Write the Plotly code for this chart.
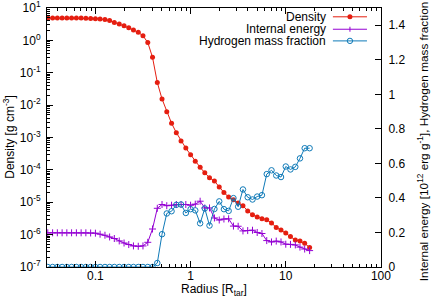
import plotly.graph_objects as go

radius = [0.0316, 0.0355, 0.0398, 0.0447, 0.0501, 0.0562, 0.0631, 0.0708, 0.0794, 0.0891,
          0.100, 0.112, 0.126, 0.141, 0.158, 0.178, 0.200, 0.224, 0.251, 0.282,
          0.316, 0.355, 0.398, 0.447, 0.501, 0.562, 0.631, 0.708, 0.794, 0.891,
          1.00, 1.12, 1.26, 1.41, 1.58, 1.78, 2.00, 2.24, 2.51, 2.82,
          3.16, 3.55, 3.98, 4.47, 5.01, 5.62, 6.31, 7.08, 7.94, 8.91,
          10.0, 11.2, 12.6, 14.1, 15.8, 17.8]

density = [4.9, 4.9, 4.9, 4.9, 4.9, 4.9, 4.9, 4.9, 4.8, 4.75,
           4.7, 4.6, 4.4, 4.1, 3.6, 3.2, 2.85, 2.45, 2.1, 1.77,
           1.39, 0.86, 0.30, 0.050, 0.0155, 0.0062, 0.00275, 0.00141, 7.8e-4, 4.7e-4,
           2.95e-4, 1.86e-4, 1.2e-4, 8.1e-5, 5.75e-5, 4.5e-5, 2.95e-5, 2.0e-5, 1.45e-5, 1.2e-5,
           9.5e-6, 7.8e-6, 5.4e-6, 4.1e-6, 3.5e-6, 3.1e-6, 2.9e-6, 2.3e-6, 1.66e-6, 1.38e-6,
           1.12e-6, 8.7e-7, 6.8e-7, 6.3e-7, 5.4e-7, 4.0e-7]

internal_energy = [0.198, 0.198, 0.198, 0.198, 0.198, 0.198, 0.198, 0.198, 0.198, 0.197,
                   0.196, 0.190, 0.184, 0.174, 0.165, 0.151, 0.139, 0.130, 0.122, 0.120,
                   0.122, 0.143, 0.220, 0.340, 0.362, 0.355, 0.358, 0.362, 0.362, 0.362,
                   0.358, 0.364, 0.381, 0.342, 0.342, 0.284, 0.272, 0.278, 0.279, 0.237,
                   0.236, 0.209, 0.211, 0.213, 0.200, 0.194, 0.153, 0.145, 0.150, 0.145,
                   0.132, 0.131, 0.128, 0.115, 0.104, 0.095]

hydrogen = [0.0, 0.0, 0.0, 0.0, 0.0, 0.0, 0.0, 0.0, 0.0, 0.0,
            0.0, 0.0, 0.0, 0.0, 0.0, 0.0, 0.0, 0.0, 0.0, 0.0,
            0.0, 0.0, 0.0, 0.023, 0.19, 0.31, 0.323, 0.36, 0.362, 0.313,
            0.335, 0.328, 0.253, 0.339, 0.24, 0.336, 0.38, 0.335, 0.325, 0.399,
            0.349, 0.449, 0.404, 0.391, 0.408, 0.416, 0.538, 0.56, 0.53, 0.521,
            0.582, 0.565, 0.58, 0.629, 0.688, 0.688]

series_names = ["Density", "Internal energy", "Hydrogen mass fraction"]

density_tickvals = [1e-7, 1e-6, 1e-5, 1e-4, 1e-3, 1e-2, 1e-1, 1e0, 1e1]
density_ticktext = ["10<sup>-7</sup>", "10<sup>-6</sup>", "10<sup>-5</sup>", "10<sup>-4</sup>",
                    "10<sup>-3</sup>", "10<sup>-2</sup>", "10<sup>-1</sup>", "10<sup>0</sup>",
                    "10<sup>1</sup>"]
radius_tickvals = [0.1, 1, 10, 100]
radius_ticktext = ["0.1", "1", "10", "100"]

RED = "#e51e10"
PURPLE = "#9400d3"
BLUE = "#0f7ab8"
FONT = "Liberation Sans, Arial, sans-serif"

fig = go.Figure()
fig.add_trace(go.Scatter(x=radius, y=density, mode="lines+markers", name=series_names[0],
                         line=dict(color=RED, width=1),
                         marker=dict(symbol="circle", size=5, color=RED)))
fig.add_trace(go.Scatter(x=radius, y=internal_energy, mode="lines+markers", name=series_names[1],
                         yaxis="y2", line=dict(color=PURPLE, width=1),
                         marker=dict(symbol="cross-thin", size=5, line=dict(color=PURPLE, width=1))))
fig.add_trace(go.Scatter(x=radius, y=hydrogen, mode="lines+markers", name=series_names[2],
                         yaxis="y2", line=dict(color=BLUE, width=1),
                         marker=dict(symbol="circle-open", size=5.5, color=BLUE, line=dict(width=1))))

# gnuplot-style key: text right-aligned, sample to its right
rows = [0.966, 0.918, 0.873]
tx, lx0, lx1, mx = 0.841, 0.856, 0.958, 0.907
shapes = []
annotations = []
colors = [RED, PURPLE, BLUE]
for name, yy, c in zip(series_names, rows, colors):
    annotations.append(dict(text=name, x=tx, y=yy, xref="paper", yref="paper",
                            xanchor="right", yanchor="middle", showarrow=False,
                            font=dict(size=12, color="black", family=FONT)))
    shapes.append(dict(type="line", xref="paper", yref="paper", x0=lx0, x1=lx1, y0=yy, y1=yy,
                       line=dict(color=c, width=1)))
shapes.append(dict(type="circle", xref="paper", yref="paper", xsizemode="pixel", ysizemode="pixel",
                   xanchor=mx, yanchor=rows[0], x0=-2.5, x1=2.5, y0=-2.5, y1=2.5,
                   fillcolor=RED, line=dict(width=0)))
shapes.append(dict(type="line", xref="paper", yref="paper", xsizemode="pixel", ysizemode="pixel",
                   xanchor=mx, yanchor=rows[1], x0=0, x1=0, y0=-2.5, y1=2.5,
                   line=dict(color=PURPLE, width=1)))
shapes.append(dict(type="circle", xref="paper", yref="paper", xsizemode="pixel", ysizemode="pixel",
                   xanchor=mx, yanchor=rows[2], x0=-2.7, x1=2.7, y0=-2.7, y1=2.7,
                   fillcolor="rgba(0,0,0,0)", line=dict(color=BLUE, width=1)))

# axis titles
annotations.append(dict(text="Radius [R<sub>tar</sub>]", x=0.5, y=-0.089, xref="paper", yref="paper",
                        xanchor="center", yanchor="middle", showarrow=False, font=dict(size=12)))
annotations.append(dict(text="Density [g cm<sup>-3</sup>]", x=-0.116, y=0.5, xref="paper", yref="paper",
                        xanchor="center", yanchor="middle", textangle=-90, showarrow=False,
                        font=dict(size=12)))
annotations.append(dict(text="Internal energy [10<sup>12</sup> erg g<sup>-1</sup>], Hydrogen mass fraction",
                        x=1.126, y=0.486, xref="paper", yref="paper",
                        xanchor="center", yanchor="middle", textangle=-90, showarrow=False,
                        font=dict(size=11.8)))

fig.update_layout(
    width=436, height=303,
    margin=dict(l=47, r=55, t=8, b=36, autoexpand=False),
    paper_bgcolor="white", plot_bgcolor="white",
    font=dict(family=FONT, size=12, color="black"),
    showlegend=False,
    shapes=shapes, annotations=annotations,
    xaxis=dict(type="log", range=[-1.5086, 2.0005], tickvals=radius_tickvals, ticktext=radius_ticktext,
               showline=True, linecolor="black", linewidth=1, mirror="ticks",
               ticks="inside", ticklen=6, tickcolor="black", showgrid=False, zeroline=False,
               minor=dict(ticks="inside", ticklen=3, tickcolor="black", showgrid=False, dtick="D1"),
               tickfont=dict(size=12), ticklabelstandoff=-2, automargin=False,
               ticklabeloverflow="allow"),
    yaxis=dict(type="log", range=[-7.0005, 1.0005], tickvals=density_tickvals, ticktext=density_ticktext,
               showline=True, linecolor="black", linewidth=1, mirror=False,
               ticks="inside", ticklen=6, tickcolor="black", showgrid=False, zeroline=False,
               minor=dict(ticks="inside", ticklen=3, tickcolor="black", showgrid=False, dtick="D1"),
               tickfont=dict(size=12), ticklabelstandoff=3, automargin=False,
               ticklabeloverflow="allow"),
    yaxis2=dict(overlaying="y", side="right", range=[0, 1.5], tick0=0, dtick=0.2,
                showline=True, linecolor="black", linewidth=1,
                ticks="inside", ticklen=6, tickcolor="black", showgrid=False, zeroline=False,
                tickfont=dict(size=12), ticklabelstandoff=4, automargin=False,
                ticklabeloverflow="allow"),
)

fig.write_html("out.html", config={"displayModeBar": False},
               post_script="document.body.style.margin='0';document.body.style.padding='0';")
